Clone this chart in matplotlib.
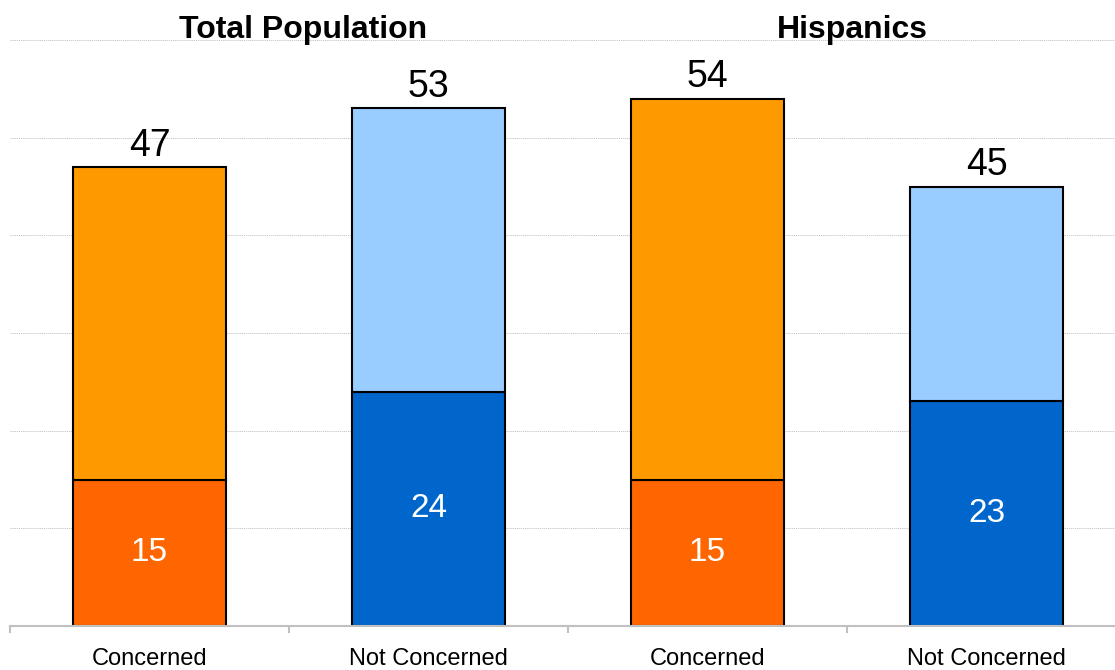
import matplotlib.pyplot as plt
import numpy as np

plt.rcParams['font.family'] = ['Liberation Sans', 'DejaVu Sans']

# Data
categories = ['Concerned', 'Not Concerned', 'Concerned', 'Not Concerned']
group_titles = ['Total Population', 'Hispanics']
bottom_values = [15, 24, 15, 23]
total_values = [47, 53, 54, 45]
bottom_colors = ['#FF6600', '#0066CC', '#FF6600', '#0066CC']
top_colors = ['#FF9900', '#99CCFF', '#FF9900', '#99CCFF']

x = np.arange(len(categories))
top_values = [t - b for t, b in zip(total_values, bottom_values)]

fig = plt.figure(figsize=(11.15, 6.7), dpi=100)
ax = fig.add_axes([10 / 1115, 44 / 670, 1116 / 1115, 586 / 670])

ax.bar(x, bottom_values, width=0.55, color=bottom_colors, edgecolor='black',
       linewidth=1.5, zorder=3)
ax.bar(x, top_values, width=0.55, bottom=bottom_values, color=top_colors,
       edgecolor='black', linewidth=1.5, zorder=3)

# Value labels
for xi, b, t in zip(x, bottom_values, total_values):
    ax.text(xi, b / 2, str(b), ha='center', va='center', color='white',
            fontsize=24, zorder=4)
    ax.annotate(str(t), xy=(xi, t), xytext=(0, 8), textcoords='offset points',
                ha='center', va='baseline', fontsize=27, color='black', zorder=4)

# Group titles
ax.text(0.55, 61.0, group_titles[0], ha='center', va='center', fontsize=23,
        fontweight='bold', clip_on=False)
ax.text(2.52, 61.0, group_titles[1], ha='center', va='center', fontsize=23,
        fontweight='bold', clip_on=False)

ax.set_xlim(-0.5, 3.5)
ax.set_ylim(0, 60)
ax.set_yticks(np.arange(10, 61, 10))
ax.yaxis.grid(True, color='#c0c0c0', linestyle=(0, (1.5, 1)), linewidth=0.6, zorder=0)
ax.tick_params(axis='y', left=False, labelleft=False)

ax.set_xticks(x)
ax.set_xticklabels(categories, fontsize=17)
ax.tick_params(axis='x', which='major', length=0, pad=15.5)
ax.set_xticks([-0.5, 0.5, 1.5, 2.5], minor=True)
ax.tick_params(axis='x', which='minor', length=5, width=1.5, color='#c0c0c0',
               direction='out')

for side in ['top', 'right', 'left']:
    ax.spines[side].set_visible(False)
ax.spines['bottom'].set_color('#c0c0c0')
ax.spines['bottom'].set_linewidth(1.5)
ax.spines['bottom'].set_zorder(5)

plt.savefig('out.png', dpi=100)
